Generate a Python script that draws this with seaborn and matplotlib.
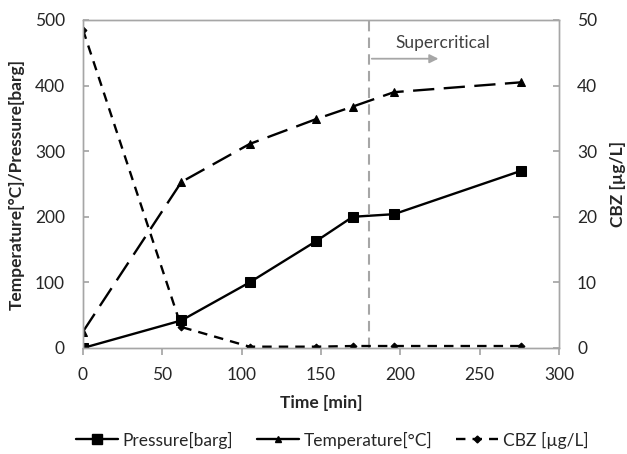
import numpy as np
import pandas as pd
import seaborn as sns
import matplotlib.pyplot as plt
from matplotlib.lines import Line2D

sns.set_theme(style="white")
plt.rcParams["font.family"] = ["Lato", "DejaVu Sans"]

time_min = [0, 62, 105, 147, 170, 196, 276]
pressure = [0, 42, 100, 163, 200, 204, 270]
temperature = [25, 253, 311, 349, 368, 390, 405]
cbz = [48.5, 3.2, 0.2, 0.2, 0.3, 0.3, 0.3]

df = pd.DataFrame({"time": time_min, "pressure": pressure,
                   "temperature": temperature, "cbz": cbz})

FS = 12.5
TXT = "#262626"
GRID = "#a6a6a6"

fig = plt.figure(figsize=(6.27, 4.54), dpi=100)
ax = fig.add_axes([83 / 627, 1 - 348 / 454, (559 - 83) / 627, (348 - 20) / 454])
ax2 = ax.twinx()

sns.lineplot(data=df, x="time", y="pressure", ax=ax, color="black", lw=1.7,
             marker="s", markersize=6.5, markeredgecolor="black", legend=False)
sns.lineplot(data=df, x="time", y="temperature", ax=ax, color="black", lw=1.7,
             marker="^", markersize=5.5, markeredgecolor="black", legend=False)
ax.lines[-1].set_dashes([9, 4])
sns.lineplot(data=df, x="time", y="cbz", ax=ax2, color="black", lw=1.7,
             marker="D", markersize=3.5, markeredgecolor="black", legend=False)
ax2.lines[-1].set_dashes([4, 3])

ax.axvline(180, color=GRID, lw=1.5, dashes=(5, 3))
ax.annotate("", xy=(224, 441), xytext=(182, 441),
            arrowprops=dict(arrowstyle="-|>", color=GRID, lw=1.3,
                            mutation_scale=13, shrinkA=0, shrinkB=0))
ax.text(197, 465, "Supercritical", fontsize=FS, color="#404040", va="center")

ax.set_xlim(0, 300)
ax.set_ylim(0, 500)
ax2.set_ylim(0, 50)
ax.set_xticks(range(0, 301, 50))
ax.set_yticks(range(0, 501, 100))
ax2.set_yticks(range(0, 51, 10))

for a in (ax, ax2):
    for s in a.spines.values():
        s.set_color(GRID)
        s.set_linewidth(1)
ax.tick_params(axis="x", bottom=True, direction="out", length=5, pad=9,
               colors=GRID, labelcolor=TXT, labelsize=FS)
ax.tick_params(axis="y", left=True, direction="in", length=4, pad=13,
               colors=GRID, labelcolor=TXT, labelsize=FS)
ax2.tick_params(axis="y", right=True, direction="in", length=4, pad=13,
                colors=GRID, labelcolor=TXT, labelsize=FS)

ax.set_xlabel("Time [min]", fontsize=FS, fontweight="bold", color=TXT,
              labelpad=8)
ax.set_ylabel("Temperature[°C]/Pressure[barg]", fontsize=FS,
              fontweight="bold", color=TXT, labelpad=7)
ax2.set_ylabel("CBZ [µg/L]", fontsize=FS, fontweight="bold", color=TXT,
               labelpad=9)

handles = [
    Line2D([], [], color="black", lw=1.7, marker="s", markersize=6.5),
    Line2D([], [], color="black", lw=1.7, marker="^", markersize=5),
    Line2D([], [], color="black", lw=1.7, marker="D", markersize=3.5,
           dashes=(4, 3)),
]
labels = ["Pressure[barg]", "Temperature[°C]", "CBZ [µg/L]"]
fig.legend(handles, labels, loc="center", bbox_to_anchor=(0.53, 1 - 440 / 454),
           ncol=3, frameon=False, fontsize=FS, handlelength=2.4,
           columnspacing=1.4, handletextpad=0.25, borderpad=0)

fig.savefig("out.png", dpi=100)
